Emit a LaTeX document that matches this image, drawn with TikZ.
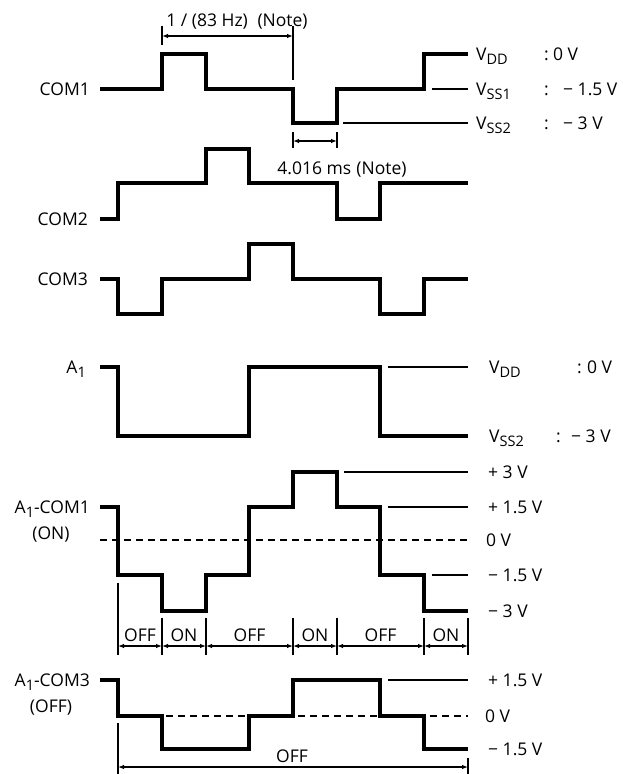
\documentclass[tikz,border=0pt]{standalone}
\usepackage{fontspec}
\setmainfont{Open Sans}
\usetikzlibrary{arrows.meta}
\newcommand\lowsub[1]{\raisebox{-4.5pt}{\fontsize{14.5}{14.5}\selectfont #1}}
\begin{document}
\begin{tikzpicture}[x=1pt,y=-1pt,
  wave/.style={line width=3.6pt,line join=miter,line cap=butt},
  thinline/.style={line width=1.3pt},
  zeroline/.style={line width=1.4pt,dash pattern=on 7pt off 5pt},
  tick/.style={line width=1.3pt},
  dimarrow/.style={line width=1.1pt,{Latex[length=6pt,width=4.5pt]}-{Latex[length=6pt,width=4.5pt]}},
  lbl/.style={font=\fontsize{17.5}{20}\selectfont,inner sep=0pt},
  rl/.style={lbl,anchor=base west},
  ll/.style={lbl,anchor=base east},
  cl/.style={lbl,anchor=base}]
\useasboundingbox (0,0) rectangle (622,774);

% ---------- COM1 ----------
\node[ll] (com1) at (90,95) {COM1};
\draw[wave] (100,89) -- (162,89) -- (162,54) -- (206,54) -- (206,89) -- (293,89) -- (293,123) -- (337,123) -- (337,89) -- (424,89) -- (424,54) -- (468,54);
\draw[thinline] (432,89) -- (468,89);
\draw[thinline] (343,123) -- (468,123);
\node[rl] (vdd1) at (476,60) {V\lowsub{DD}};
\node[rl] (vdd1c) at (544,60) {:};
\node[rl] (vdd1v) at (553,60) {0 V};
\node[rl] (vss1) at (476,95) {V\lowsub{SS1}};
\node[rl] (vss1c) at (544,95) {:};
\node[rl] (vss1v) at (563,95) {− 1.5 V};
\node[rl] (vss2) at (476,129) {V\lowsub{SS2}};
\node[rl] (vss2c) at (544,129) {:};
\node[rl] (vss2v) at (563,129) {− 3 V};

% period dimension
\coordinate (pa) at (162,36);
\coordinate (pb) at (293,36);
\draw[tick] (162,26) -- (162,45);
\draw[tick] (293,26) -- (293,80);
\draw[dimarrow] (pa) -- (pb);
\node[cl] (ptxt) at (237,26) {1 / (83 Hz)\hspace{0.55em}(Note)};

% 4.016 ms dimension
\coordinate (wa) at (293,141);
\coordinate (wb) at (337,141);
\draw[tick] (293,132) -- (293,148);
\draw[tick] (337,132) -- (337,148);
\draw[dimarrow] (wa) -- (wb);
\node[cl] (wtxt) at (342,174) {4.016 ms\hspace{0.3em}(Note)};

% ---------- COM2 ----------
\node[ll] (com2) at (88,225) {COM2};
\draw[wave] (100,219) -- (118,219) -- (118,183) -- (206,183) -- (206,149) -- (249,149) -- (249,183) -- (337,183) -- (337,219) -- (380,219) -- (380,183) -- (468,183);

% ---------- COM3 ----------
\node[ll] (com3) at (88,285) {COM3};
\draw[wave] (100,279) -- (118,279) -- (118,314) -- (162,314) -- (162,279) -- (249,279) -- (249,244) -- (293,244) -- (293,279) -- (380,279) -- (380,314) -- (424,314) -- (424,279) -- (468,279);

% ---------- A1 ----------
\node[ll] (a1) at (86,373) {A\lowsub{1}};
\draw[wave] (100,367) -- (118,367) -- (118,436) -- (249,436) -- (249,367) -- (380,367) -- (380,436) -- (468,436);
\draw[thinline] (388,367) -- (468,367);
\node[rl] (avdd) at (489,373) {V\lowsub{DD}};
\node[rl] (avddc) at (577,373) {:};
\node[rl] (avddv) at (587,373) {0 V};
\node[rl] (avss) at (489,442) {V\lowsub{SS2}};
\node[rl] (avssc) at (556,442) {:};
\node[rl] (avssv) at (571,442) {− 3 V};

% ---------- A1-COM1 ----------
\node[ll] (ac1) at (90,513) {A\lowsub{1}-COM1};
\node[cl] (ac1s) at (51,539) {(ON)};
\draw[zeroline] (100,540) -- (468,540);
\draw[wave] (100,507) -- (118,507) -- (118,575) -- (162,575) -- (162,611) -- (206,611) -- (206,575) -- (249,575) -- (249,507) -- (293,507) -- (293,472) -- (337,472) -- (337,507) -- (380,507) -- (380,575) -- (424,575) -- (424,611) -- (468,611);
\draw[thinline] (344,472) -- (468,472);
\draw[thinline] (388,507) -- (468,507);
\draw[thinline] (432,575) -- (468,575);
\node[rl] (l3) at (488,478) {+ 3 V};
\node[rl] (l15) at (488,513) {+ 1.5 V};
\node[rl] (l0) at (486,546) {0 V};
\node[rl] (lm15) at (488,581) {− 1.5 V};
\node[rl] (lm3) at (488,617) {− 3 V};

% ON / OFF row
\draw[tick] (118,583) -- (118,655);
\foreach \xx in {162,206,293,337,424,468} \draw[tick] (\xx,618) -- (\xx,655);
\coordinate (k0) at (118,646);
\coordinate (k1) at (162,646);
\coordinate (k2) at (206,646);
\coordinate (k3) at (293,646);
\coordinate (k4) at (337,646);
\coordinate (k5) at (424,646);
\coordinate (k6) at (468,646);
\draw[dimarrow] (k0) -- (k1);
\draw[dimarrow] (k1) -- (k2);
\draw[dimarrow] (k2) -- (k3);
\draw[dimarrow] (k3) -- (k4);
\draw[dimarrow] (k4) -- (k5);
\draw[dimarrow] (k5) -- (k6);
\node[cl] (s1) at (140,641) {OFF};
\node[cl] (s2) at (184,641) {ON};
\node[cl] (s3) at (249.5,641) {OFF};
\node[cl] (s4) at (315,641) {ON};
\node[cl] (s5) at (380.5,641) {OFF};
\node[cl] (s6) at (446,641) {ON};

% ---------- A1-COM3 ----------
\node[ll] (ac3) at (90,686) {A\lowsub{1}-COM3};
\node[cl] (ac3s) at (51,712) {(OFF)};
\draw[zeroline] (118,716) -- (468,716);
\draw[wave] (100,680) -- (118,680) -- (118,716) -- (162,716) -- (162,749) -- (249,749) -- (249,716) -- (293,716) -- (293,680) -- (380,680) -- (380,716) -- (424,716) -- (424,749) -- (468,749);
\draw[thinline] (388,680) -- (468,680);
\node[rl] (m15) at (488,686) {+ 1.5 V};
\node[rl] (m0) at (485,722) {0 V};
\node[rl] (mm15) at (488,755) {− 1.5 V};

% bottom OFF dimension
\draw[tick] (118,723) -- (118,774);
\draw[tick] (468,758) -- (468,774);
\coordinate (ba) at (118,767);
\coordinate (bb) at (468,767);
\draw[dimarrow] (ba) -- (bb);
\node[cl] (btxt) at (292,762) {OFF};
\end{tikzpicture}
\end{document}
